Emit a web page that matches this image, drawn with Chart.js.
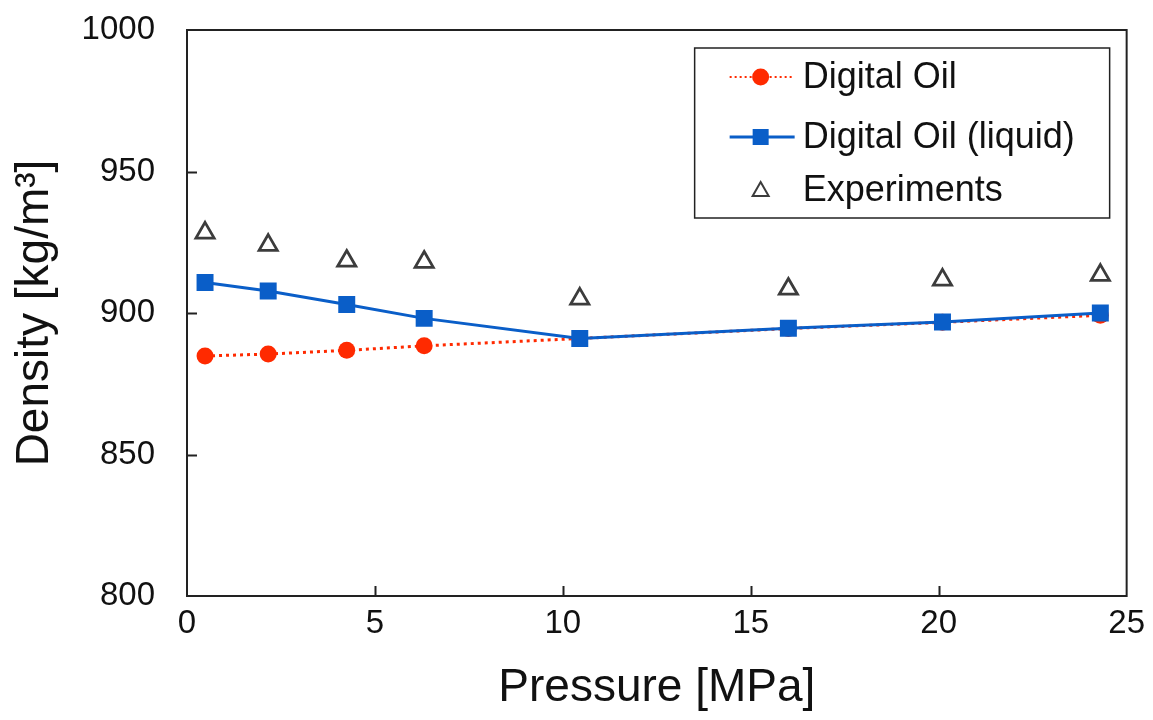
<!DOCTYPE html>
<html>
<head>
<meta charset="utf-8">
<script src="https://cdn.jsdelivr.net/npm/chart.js@4.4.1/dist/chart.umd.min.js"></script>
<style>
  html, body { margin:0; padding:0; background:#fff; }
  #wrap { width:1153px; height:720px; }
</style>
</head>
<body>
<div id="wrap"><canvas id="chart"></canvas></div>
<script>
'use strict';

// pressure [MPa] for each measurement
const PRESSURE   = [0.48, 2.16, 4.25, 6.31, 10.45, 16.0, 20.1, 24.3];
const DO_ALL     = [884.8, 885.5, 886.8, 888.4, 891.0, 894.5, 896.7, 899.2];
const DO_LIQUID  = [910.8, 907.8, 903.0, 898.1, 891.0, 894.6, 896.8, 900.0];
const EXPERIMENT = [928.3, 924.0, 918.4, 918.0, 905.0, 908.5, 911.7, 913.4];
const X_TICKS    = [0, 5, 10, 15, 20, 25];
const Y_TICKS    = [800, 850, 900, 950, 1000];

const RED  = '#ff2a00';
const BLUE = '#0a5ec8';
const GREY = '#3c3c3c';
const FONT = '"Liberation Sans", Arial, sans-serif';

const pts = ys => PRESSURE.map((x, i) => ({ x, y: ys[i] }));

// box frame + inward ticks, drawn from the scales
const framePlugin = {
  id: 'frame',
  afterDraw(chart) {
    const { ctx, chartArea: a, scales: { x, y } } = chart;
    ctx.save();
    ctx.strokeStyle = '#222';
    ctx.lineWidth = 2;
    ctx.strokeRect(a.left, a.top, a.right - a.left, a.bottom - a.top);
    ctx.beginPath();
    X_TICKS.slice(1, -1).forEach(v => {
      const px = Math.round(x.getPixelForValue(v)) + 0.5;
      ctx.moveTo(px, a.bottom); ctx.lineTo(px, a.bottom - 10);
    });
    Y_TICKS.slice(1, -1).forEach(v => {
      const py = Math.round(y.getPixelForValue(v)) + 0.5;
      ctx.moveTo(a.left, py); ctx.lineTo(a.left + 10, py);
    });
    ctx.stroke();
    ctx.restore();
  }
};

// boxed legend inside the plot, Excel style
const legendPlugin = {
  id: 'boxLegend',
  afterDraw(chart) {
    const { ctx, chartArea: a } = chart;
    const bx = a.right - 432, by = a.top + 18, bw = 415, bh = 170;
    ctx.save();
    ctx.fillStyle = '#fff';
    ctx.fillRect(bx, by, bw, bh);
    ctx.strokeStyle = '#222';
    ctx.lineWidth = 1.5;
    ctx.strokeRect(bx, by, bw, bh);
    ctx.font = `36px ${FONT}`;
    ctx.textBaseline = 'middle';
    const rows = [by + 29, by + 89, by + 142];
    const sx0 = bx + 35, sx1 = bx + 100, mx = bx + 66, tx = bx + 108;

    // Digital Oil
    ctx.strokeStyle = RED; ctx.lineWidth = 2; ctx.setLineDash([2, 3]);
    ctx.beginPath(); ctx.moveTo(sx0, rows[0]); ctx.lineTo(sx1, rows[0]); ctx.stroke();
    ctx.setLineDash([]);
    ctx.fillStyle = RED;
    ctx.beginPath(); ctx.arc(mx, rows[0], 8.5, 0, Math.PI * 2); ctx.fill();
    // Digital Oil (liquid)
    ctx.strokeStyle = BLUE; ctx.lineWidth = 3;
    ctx.beginPath(); ctx.moveTo(sx0, rows[1]); ctx.lineTo(sx1, rows[1]); ctx.stroke();
    ctx.fillStyle = BLUE;
    ctx.fillRect(mx - 8, rows[1] - 8, 16, 16);
    // Experiments
    ctx.strokeStyle = GREY; ctx.lineWidth = 2;
    ctx.beginPath();
    ctx.moveTo(mx, rows[2] - 8); ctx.lineTo(mx + 8, rows[2] + 6); ctx.lineTo(mx - 8, rows[2] + 6);
    ctx.closePath(); ctx.stroke();

    ctx.fillStyle = '#111';
    ['Digital Oil', 'Digital Oil (liquid)', 'Experiments'].forEach((t, i) => ctx.fillText(t, tx, rows[i] + 1));
    ctx.restore();
  }
};

new Chart(document.getElementById('chart'), {
  type: 'scatter',
  data: {
    datasets: [
      { label: 'Digital Oil', data: pts(DO_ALL), showLine: true, order: 3,
        borderColor: RED, borderWidth: 3, borderDash: [3, 4],
        pointStyle: 'circle', pointRadius: 8.5, pointBackgroundColor: RED, pointBorderWidth: 0 },
      { label: 'Digital Oil (liquid)', data: pts(DO_LIQUID), showLine: true, order: 2,
        borderColor: BLUE, borderWidth: 3,
        pointStyle: 'rect', pointRadius: 12, pointBackgroundColor: BLUE, pointBorderWidth: 0 },
      { label: 'Experiments', data: pts(EXPERIMENT), showLine: false, order: 1,
        pointStyle: 'triangle', pointRadius: 10.5, pointBackgroundColor: 'rgba(0,0,0,0)',
        pointBorderColor: GREY, pointBorderWidth: 2.8 }
    ]
  },
  options: {
    responsive: true,
    maintainAspectRatio: false,
    animation: false,
    layout: { padding: { top: 30, right: 26, left: 0, bottom: 0 } },
    plugins: { legend: { display: false }, tooltip: { enabled: false } },
    scales: {
      x: {
        type: 'linear', min: 0, max: 25,
        afterBuildTicks: s => { s.ticks = X_TICKS.map(v => ({ value: v })); },
        afterFit: s => { s.height = 124; },
        grid: { display: false, drawTicks: false },
        border: { display: false },
        ticks: { color: '#111', padding: 8, font: { family: FONT, size: 33 },
                 callback: v => String(v) },
        title: { display: true, text: 'Pressure [MPa]', color: '#111',
                 font: { family: FONT, size: 46 }, padding: { top: 6 } }
      },
      y: {
        type: 'linear', min: 800, max: 1000,
        afterBuildTicks: s => { s.ticks = Y_TICKS.map(v => ({ value: v })); },
        afterFit: s => { s.width = 187; s.paddingTop = 0; s.paddingBottom = 0; },
        grid: { display: false, drawTicks: false },
        border: { display: false },
        ticks: { color: '#111', padding: 32, font: { family: FONT, size: 33 },
                 callback: v => String(v) },
        title: { display: true, text: 'Density [kg/m³]', color: '#111',
                 font: { family: FONT, size: 46 }, padding: { top: 8, bottom: 0 } }
      }
    }
  },
  plugins: [framePlugin, legendPlugin]
});
</script>
</body>
</html>
